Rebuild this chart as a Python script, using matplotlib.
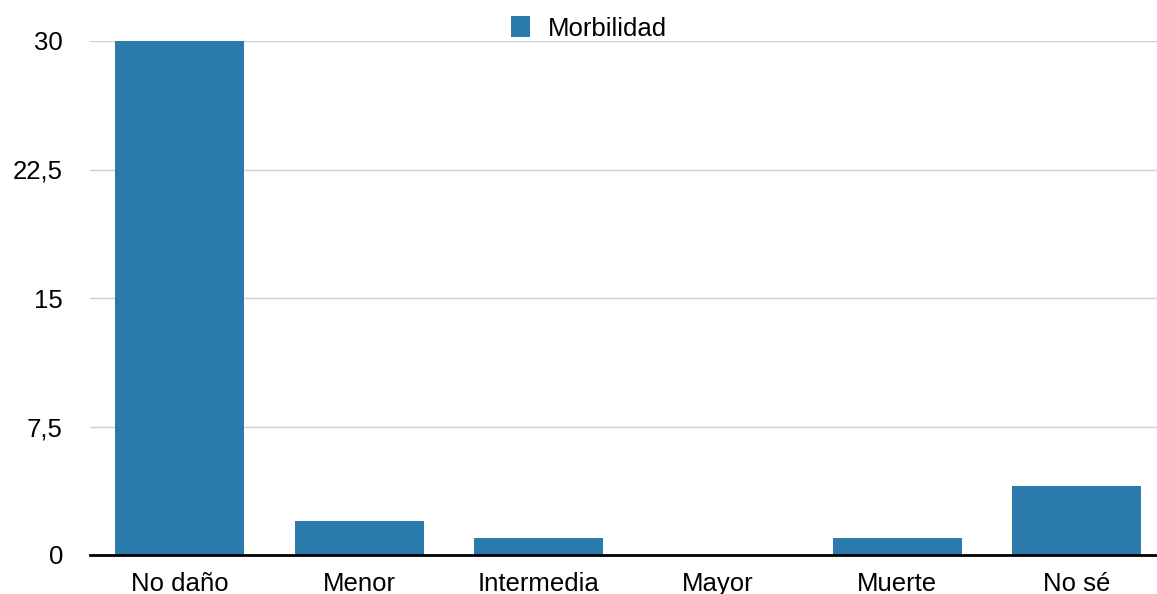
import matplotlib.pyplot as plt
from matplotlib.patches import Patch

plt.rcParams['font.family'] = ['Liberation Sans', 'DejaVu Sans']

categories = ['No daño', 'Menor', 'Intermedia', 'Mayor', 'Muerte', 'No sé']
values = [30, 2, 1, 0, 1, 4]
yticks = [0, 7.5, 15, 22.5, 30]
ytick_labels = ['0', '7,5', '15', '22,5', '30']
series_name = 'Morbilidad'
color = '#2a7aab'

W, H = 1157, 594
fig = plt.figure(figsize=(W / 100, H / 100), dpi=100)
# category slot ~179.4 px, axes runs a bit past the right edge
ax = fig.add_axes([90 / W, 39 / H, 6 * 179.4 / W, (555 - 41) / H])

x = range(len(categories))
ax.bar(x, values, width=0.72, color=color, zorder=3)

ax.set_xlim(-0.5, len(categories) - 0.5)
ax.set_ylim(0, 30)
ax.set_yticks(yticks)
ax.set_yticklabels(ytick_labels)
ax.set_xticks(list(x))
ax.set_xticklabels(categories)

ax.grid(axis='y', color='#d0d0d0', linewidth=1, zorder=0)
for s in ['top', 'right', 'left']:
    ax.spines[s].set_visible(False)
ax.spines['bottom'].set_color('black')
ax.spines['bottom'].set_linewidth(2)
ax.spines['bottom'].set_zorder(4)
ax.tick_params(axis='both', length=0, labelsize=18.5)
ax.tick_params(axis='y', pad=19.5)
ax.tick_params(axis='x', pad=12)

handles = [Patch(facecolor=color, label=series_name)]
fig.legend(handles=handles, loc='center', bbox_to_anchor=(589 / W, 1 - 28.5 / H),
           frameon=False, fontsize=18.5, handlelength=0.75, handleheight=0.85,
           handletextpad=0.7)

fig.savefig('out.png', dpi=100)
